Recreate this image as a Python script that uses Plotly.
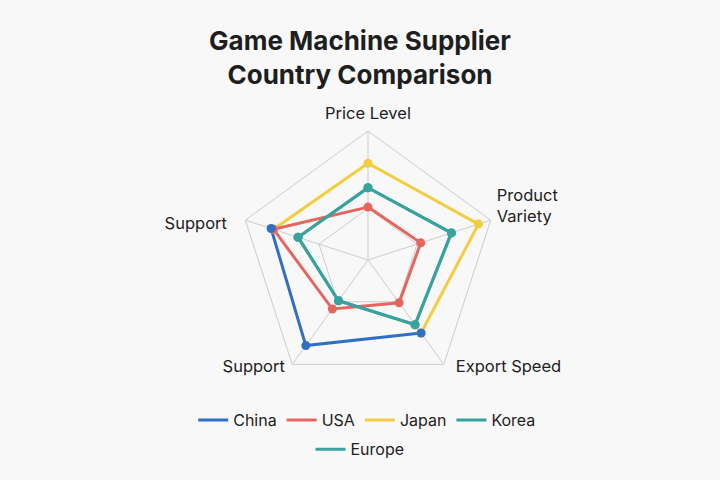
import plotly.graph_objects as go

# Axis categories (the two "Support" spokes are kept apart by a trailing space)
categories = ["Price Level", "Product Variety", "Export Speed", "Support", "Support "]
tick_labels = ["Price Level", "Product<br>Variety<br>\u00a0", "\u00a0\u00a0Export Speed",
               "Support\u00a0", "\u00a0<br>Support"]

# Scores per supplier country (None = no value, line breaks there)
china = [None, None, 7.0, 8.2, 7.9]
usa = [4.1, 4.3, 4.1, 4.7, 7.7]
japan = [7.5, 9.0, 7.0, None, 7.7]
korea = [5.6, 6.8, 6.2, 3.9, 5.7]
europe = [5.6, 6.8, 6.2, 3.9, 5.7]

series = [
    # name, values, colour, legend rank, legend
    ("Japan", japan, "#f4cc3f", 3, "legend"),
    ("USA", usa, "#e5665f", 2, "legend"),
    ("Korea", korea, "#35a19d", 4, "legend"),
    ("Europe", europe, "#38a39e", 5, "legend2"),
    ("China", china, "#2f6fc6", 1, "legend"),
]

W, H = 720, 480
CX, CY, RAD = 368, 260, 129   # radar centre / radius in pixels
R_MAX = 10
LABEL_ROOM = 1.2               # label layer reaches a bit further out


def closed(values):
    # repeat the first point so the polygon closes
    return values + values[:1]


def domain(scale):
    rad = RAD * scale
    return dict(x=[(CX - rad) / W, (CX + rad) / W],
                y=[(H - CY - rad) / H, (H - CY + rad) / H])


fig = go.Figure()

# lines first (these carry the legend entries) ...
for name, values, color, rank, leg in series:
    fig.add_trace(go.Scatterpolar(
        r=closed(values), theta=closed(categories), name=name,
        mode="lines", line=dict(color=color, width=3), legend=leg,
        legendgroup=name, legendrank=rank, connectgaps=False))

# ... then the point markers on top
for name, values, color, rank, leg in series:
    fig.add_trace(go.Scatterpolar(
        r=values, theta=categories, name=name, mode="markers",
        marker=dict(color=color, size=9), legendgroup=name,
        showlegend=False))

# spoke labels on a transparent overlay with the same scale
label_r = [10.6, 10.5, 10.35, 10.35, 11.5]
label_pos = ["top center", "middle right", "middle right", "middle left", "middle left"]
fig.add_trace(go.Scatterpolar(
    r=label_r, theta=categories, text=tick_labels, mode="text",
    textposition=label_pos, textfont=dict(size=16.5, color="#222222"),
    subplot="polar2", cliponaxis=False, hoverinfo="skip", showlegend=False))

angular = dict(type="category", categoryorder="array", categoryarray=categories,
               showticklabels=False, rotation=90, direction="clockwise", ticks="")

fig.update_layout(
    width=W, height=H, autosize=False,
    margin=dict(l=0, r=0, t=0, b=0),
    paper_bgcolor="#f8f8f8",
    font=dict(family="Inter, Roboto, sans-serif", color="#222222", size=15),
    title=dict(text="Game Machine Supplier<br>Country Comparison",
               x=0.5, xanchor="center", y=0.895, yanchor="top",
               font=dict(size=26, weight="bold", color="#1e1e1e")),
    polar=dict(
        domain=domain(1),
        bgcolor="#f8f8f8",
        gridshape="linear",
        radialaxis=dict(range=[0, R_MAX], tickvals=[4], showticklabels=False,
                        showline=False, ticks="", gridcolor="#cccccc",
                        gridwidth=1),
        angularaxis=dict(angular, showline=True, linecolor="#cccccc",
                         linewidth=1, gridcolor="#cccccc", gridwidth=1),
    ),
    polar2=dict(
        domain=domain(LABEL_ROOM),
        bgcolor="rgba(0,0,0,0)",
        gridshape="linear",
        radialaxis=dict(range=[0, R_MAX * LABEL_ROOM], visible=False),
        angularaxis=dict(angular, showline=False, showgrid=False),
    ),
    legend=dict(orientation="h", x=0.51, xanchor="center", y=0.125,
                yanchor="middle", font=dict(size=16, color="#222222"),
                bgcolor="rgba(0,0,0,0)"),
    legend2=dict(orientation="h", x=0.5, xanchor="center", y=0.064,
                 yanchor="middle", font=dict(size=16, color="#222222"),
                 bgcolor="rgba(0,0,0,0)"),
)

fig.write_html(
    "out.html",
    config={"displayModeBar": False},
    post_script="document.body.style.margin='0';"
                "document.body.style.background='#f8f8f8';")
